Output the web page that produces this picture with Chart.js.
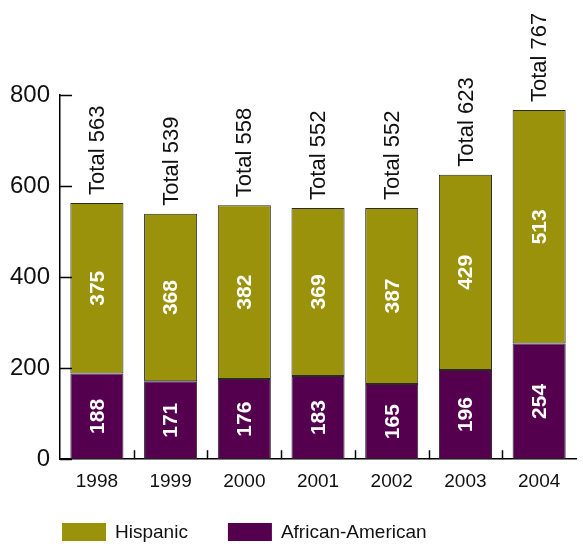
<!DOCTYPE html>
<html>
<head>
<meta charset="utf-8">
<script src="https://cdn.jsdelivr.net/npm/chart.js@4/dist/chart.umd.min.js"></script>
<style>
  body { margin: 0; background: #fff; }
  #wrap { width: 583px; height: 547px; }
</style>
</head>
<body>
<div id="wrap"><canvas id="grafico"></canvas></div>
<script>
const anos = ['1998', '1999', '2000', '2001', '2002', '2003', '2004'];
const afroAmericanos = [188, 171, 176, 183, 165, 196, 254];
const hispanicos = [375, 368, 382, 369, 387, 429, 513];
const totais = [563, 539, 558, 552, 552, 623, 767];
const ticksY = [0, 200, 400, 600, 800];

const corHispanic = '#9a920a';
const corAfro = '#55004f';
const fonte = '"Liberation Sans", Arial, sans-serif';

// rotulos dentro das barras e totais acima
const rotulos = {
    id: 'rotulos',
    afterDatasetsDraw(chart) {
        const ctx = chart.ctx;
        ctx.save();
        chart.data.datasets.forEach((ds, i) => {
            const meta = chart.getDatasetMeta(i);
            meta.data.forEach((bar, j) => {
                ctx.save();
                ctx.translate(bar.x, (bar.y + bar.base) / 2);
                ctx.rotate(-Math.PI / 2);
                ctx.fillStyle = '#fff';
                ctx.font = 'bold 21px ' + fonte;
                ctx.textAlign = 'center';
                ctx.textBaseline = 'middle';
                ctx.fillText(String(ds.data[j]), 0, 1);
                ctx.restore();
            });
        });
        const topo = chart.getDatasetMeta(chart.data.datasets.length - 1);
        topo.data.forEach((bar, j) => {
            ctx.save();
            ctx.translate(bar.x, bar.y - 8);
            ctx.rotate(-Math.PI / 2);
            ctx.fillStyle = '#111';
            ctx.font = '22px ' + fonte;
            ctx.textAlign = 'left';
            ctx.textBaseline = 'middle';
            ctx.fillText('Total ' + totais[j], 0, 1);
            ctx.restore();
        });
        ctx.restore();
    }
};

// marcas dos eixos voltadas para dentro
const marcas = {
    id: 'marcas',
    afterDraw(chart) {
        const ctx = chart.ctx;
        const y = chart.scales.y, x = chart.scales.x;
        ctx.save();
        ctx.strokeStyle = '#000';
        ctx.lineWidth = 1.5;
        ticksY.forEach(v => {
            const py = Math.round(y.getPixelForValue(v)) + 0.5;
            ctx.beginPath();
            ctx.moveTo(x.left, py);
            ctx.lineTo(x.left + 12, py);
            ctx.stroke();
        });
        for (let i = 1; i < anos.length; i++) {
            const px = Math.round((x.getPixelForValue(i - 1) + x.getPixelForValue(i)) / 2) + 0.5;
            ctx.beginPath();
            ctx.moveTo(px, y.bottom);
            ctx.lineTo(px, y.bottom - 9);
            ctx.stroke();
        }
        ctx.restore();
    }
};

// legenda embaixo, Hispanic primeiro
const legenda = {
    id: 'legenda',
    afterDraw(chart) {
        const ctx = chart.ctx;
        const itens = chart.data.datasets.slice().reverse();
        let px = chart.chartArea.left + 2;
        const py = chart.height - 24;
        ctx.save();
        ctx.font = '19px ' + fonte;
        ctx.textBaseline = 'middle';
        ctx.textAlign = 'left';
        itens.forEach(ds => {
            ctx.fillStyle = ds.backgroundColor;
            ctx.fillRect(px, py, 44, 18);
            ctx.fillStyle = '#111';
            ctx.fillText(ds.label, px + 53, py + 10);
            px += 53 + ctx.measureText(ds.label).width + 40;
        });
        ctx.restore();
    }
};

new Chart(document.getElementById('grafico').getContext('2d'), {
    type: 'bar',
    data: {
        labels: anos,
        datasets: [
            {
                label: 'African-American',
                data: afroAmericanos,
                backgroundColor: corAfro,
                borderColor: '#2a2a2a',
                borderWidth: 1,
                borderSkipped: false
            },
            {
                label: 'Hispanic',
                data: hispanicos,
                backgroundColor: corHispanic,
                borderColor: '#2a2a2a',
                borderWidth: 1,
                borderSkipped: false
            }
        ]
    },
    options: {
        responsive: true,
        maintainAspectRatio: false,
        animation: false,
        layout: { padding: { top: 95, right: 7, left: 0, bottom: 43 } },
        datasets: { bar: { categoryPercentage: 1, barPercentage: 0.72 } },
        scales: {
            x: {
                stacked: true,
                grid: { display: false, drawTicks: false },
                border: { display: true, color: '#000', width: 1.5 },
                ticks: { color: '#111', font: { family: fonte, size: 19 }, padding: 11 }
            },
            y: {
                stacked: true,
                min: 0,
                max: 800,
                grid: { display: false, drawTicks: false },
                border: { display: true, color: '#000', width: 1.5 },
                afterBuildTicks: axis => { axis.ticks = ticksY.map(v => ({ value: v })); },
                ticks: { color: '#111', font: { family: fonte, size: 24 }, padding: 10 }
            }
        },
        plugins: {
            legend: { display: false },
            title: { display: false },
            tooltip: { enabled: false }
        }
    },
    plugins: [rotulos, marcas, legenda]
});
</script>
</body>
</html>
